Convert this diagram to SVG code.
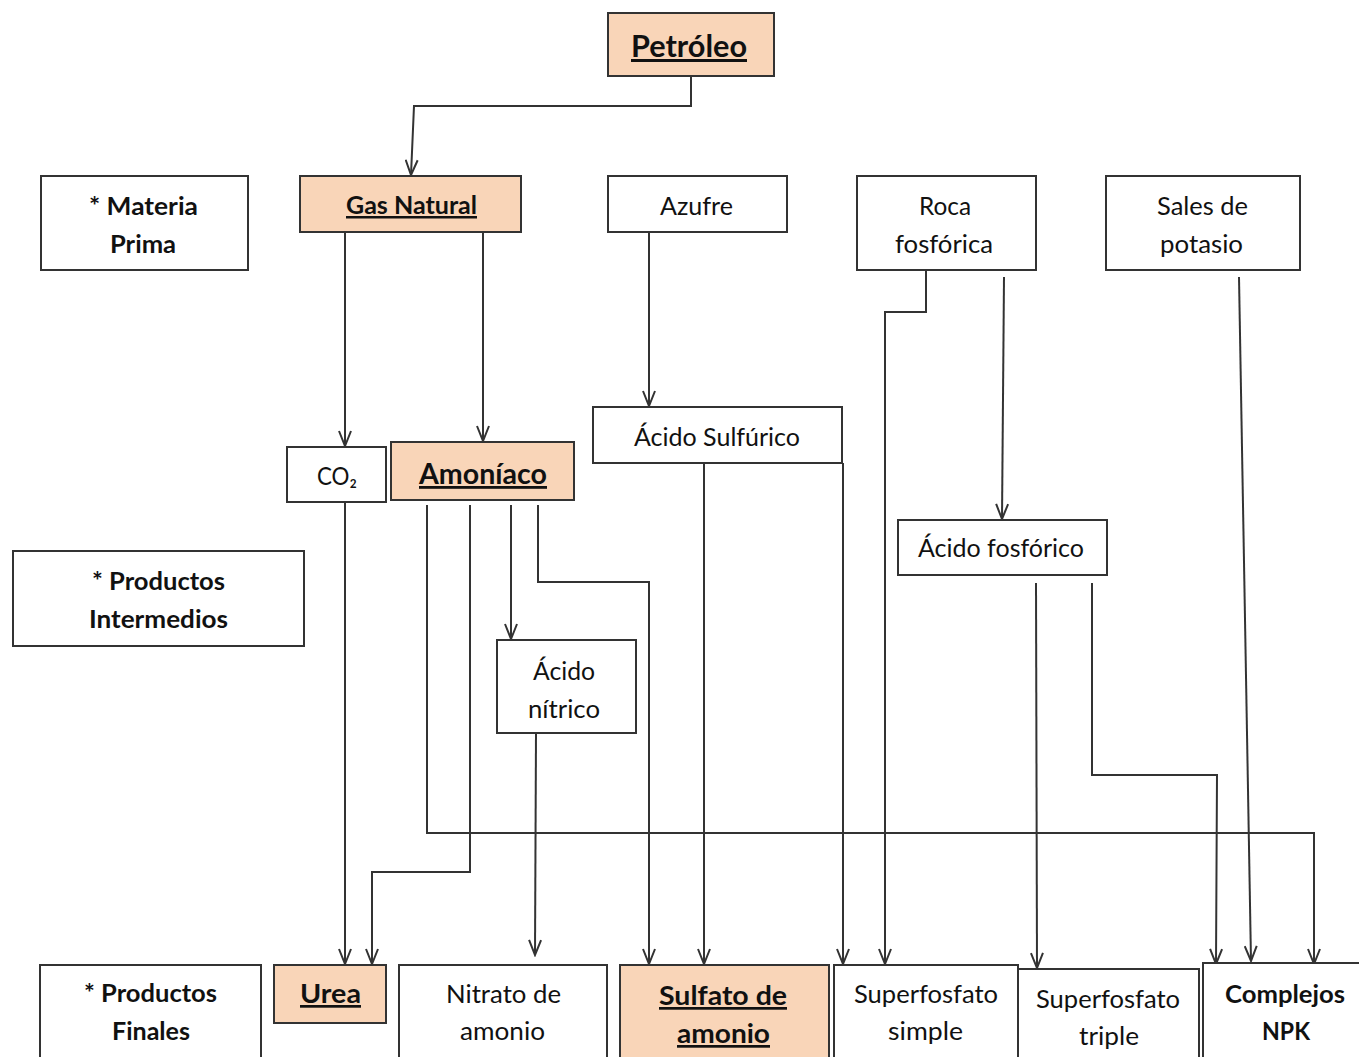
<svg xmlns="http://www.w3.org/2000/svg" width="1359" height="1057" viewBox="0 0 1359 1057">
<style>
.box{fill:#ffffff;stroke:#333;stroke-width:2}
.hl{fill:#f9d5b8;stroke:#333;stroke-width:2}
text{font-family:Lato,"Open Sans","Liberation Sans",sans-serif;fill:#111;text-anchor:start}
.b{font-weight:bold}
.u{text-decoration:underline}
.c{fill:none;stroke:#333;stroke-width:2}
</style>
<defs>
<marker id="ah" markerUnits="userSpaceOnUse" markerWidth="18" markerHeight="14" viewBox="0 0 18 14" refX="16" refY="7" orient="auto">
<path d="M1,1 L16,7 L1,13" fill="none" stroke="#333" stroke-width="2"/>
</marker>
</defs>
<g id="connectors">
<path class="c" d="M691,76 V106 H414 L411,175" marker-end="url(#ah)"/>
<path class="c" d="M345,232 V446" marker-end="url(#ah)"/>
<path class="c" d="M483,232 V441" marker-end="url(#ah)"/>
<path class="c" d="M649,232 V406" marker-end="url(#ah)"/>
<path class="c" d="M1004,277 L1002,519" marker-end="url(#ah)"/>
<path class="c" d="M926,262 V312 H885 V964" marker-end="url(#ah)"/>
<path class="c" d="M1239,277 L1251,961" marker-end="url(#ah)"/>
<path class="c" d="M345,502 V964" marker-end="url(#ah)"/>
<path class="c" d="M470,505 V872 H372 V964" marker-end="url(#ah)"/>
<path class="c" d="M511,505 V639" marker-end="url(#ah)"/>
<path class="c" d="M538,505 V582 H649 V964" marker-end="url(#ah)"/>
<path class="c" d="M427,505 V833 H1314 V964" marker-end="url(#ah)"/>
<path class="c" d="M536,733 L535,955" marker-end="url(#ah)"/>
<path class="c" d="M704,463 V964" marker-end="url(#ah)"/>
<path class="c" d="M843,463 V964" marker-end="url(#ah)"/>
<path class="c" d="M1036,583 L1037,968" marker-end="url(#ah)"/>
<path class="c" d="M1092,583 V775 H1217 L1216,964" marker-end="url(#ah)"/>
</g>
<g id="petroleo"><rect class="hl" x="608" y="13" width="166" height="63"/><text class="b u" x="631" y="57" font-size="30" textLength="116" lengthAdjust="spacingAndGlyphs">Petróleo</text></g>
<g id="materia-prima"><rect class="box" x="41" y="176" width="207" height="94"/><text class="b" x="89" y="215" font-size="25" textLength="109" lengthAdjust="spacingAndGlyphs">* Materia</text><text class="b" x="110" y="253" font-size="25" textLength="66" lengthAdjust="spacingAndGlyphs">Prima</text></g>
<g id="gas-natural"><rect class="hl" x="300" y="176" width="221" height="56"/><text class="b u" x="346" y="214" font-size="25" textLength="131" lengthAdjust="spacingAndGlyphs">Gas Natural</text></g>
<g id="azufre"><rect class="box" x="608" y="176" width="179" height="56"/><text x="660" y="215" font-size="25" textLength="73" lengthAdjust="spacingAndGlyphs">Azufre</text></g>
<g id="roca-fosforica"><rect class="box" x="857" y="176" width="179" height="94"/><text x="919" y="215" font-size="25" textLength="52" lengthAdjust="spacingAndGlyphs">Roca</text><text x="895" y="253" font-size="25" textLength="98" lengthAdjust="spacingAndGlyphs">fosfórica</text></g>
<g id="sales-potasio"><rect class="box" x="1106" y="176" width="194" height="94"/><text x="1157" y="215" font-size="25" textLength="91" lengthAdjust="spacingAndGlyphs">Sales de</text><text x="1160" y="253" font-size="25" textLength="83" lengthAdjust="spacingAndGlyphs">potasio</text></g>
<g id="co2"><rect class="box" x="287" y="447" width="99" height="55"/><text x="317" y="485" font-size="25" textLength="40" lengthAdjust="spacingAndGlyphs">CO₂</text></g>
<g id="amoniaco"><rect class="hl" x="391" y="442" width="183" height="58"/><text class="b u" x="419" y="484" font-size="28" textLength="128" lengthAdjust="spacingAndGlyphs">Amoníaco</text></g>
<g id="acido-sulfurico"><rect class="box" x="593" y="407" width="249" height="56"/><text x="634" y="446" font-size="25" textLength="166" lengthAdjust="spacingAndGlyphs">Ácido Sulfúrico</text></g>
<g id="productos-intermedios"><rect class="box" x="13" y="551" width="291" height="95"/><text class="b" x="92" y="590" font-size="25" textLength="133" lengthAdjust="spacingAndGlyphs">* Productos</text><text class="b" x="89" y="628" font-size="25" textLength="139" lengthAdjust="spacingAndGlyphs">Intermedios</text></g>
<g id="acido-fosforico"><rect class="box" x="898" y="520" width="209" height="55"/><text x="918" y="557" font-size="25" textLength="166" lengthAdjust="spacingAndGlyphs">Ácido fosfórico</text></g>
<g id="acido-nitrico"><rect class="box" x="497" y="640" width="139" height="93"/><text x="533" y="680" font-size="25" textLength="62" lengthAdjust="spacingAndGlyphs">Ácido</text><text x="528" y="718" font-size="25" textLength="72" lengthAdjust="spacingAndGlyphs">nítrico</text></g>
<g id="productos-finales"><rect class="box" x="40" y="965" width="221" height="100"/><text class="b" x="84" y="1002" font-size="25" textLength="133" lengthAdjust="spacingAndGlyphs">* Productos</text><text class="b" x="112" y="1040" font-size="25" textLength="78" lengthAdjust="spacingAndGlyphs">Finales</text></g>
<g id="urea"><rect class="hl" x="274" y="965" width="112" height="58"/><text class="b u" x="300" y="1003" font-size="27" textLength="61" lengthAdjust="spacingAndGlyphs">Urea</text></g>
<g id="nitrato-amonio"><rect class="box" x="399" y="965" width="208" height="100"/><text x="446" y="1003" font-size="25" textLength="115" lengthAdjust="spacingAndGlyphs">Nitrato de</text><text x="460" y="1040" font-size="25" textLength="85" lengthAdjust="spacingAndGlyphs">amonio</text></g>
<g id="sulfato-amonio"><rect class="hl" x="620" y="965" width="209" height="100"/><text class="b u" x="659" y="1005" font-size="27" textLength="128" lengthAdjust="spacingAndGlyphs">Sulfato de</text><text class="b u" x="677" y="1043" font-size="27" textLength="93" lengthAdjust="spacingAndGlyphs">amonio</text></g>
<g id="superfosfato-simple"><rect class="box" x="834" y="965" width="184" height="100"/><text x="854" y="1003" font-size="25" textLength="144" lengthAdjust="spacingAndGlyphs">Superfosfato</text><text x="888" y="1040" font-size="25" textLength="75" lengthAdjust="spacingAndGlyphs">simple</text></g>
<g id="superfosfato-triple"><rect class="box" x="1018" y="969" width="181" height="100"/><text x="1036" y="1008" font-size="25" textLength="144" lengthAdjust="spacingAndGlyphs">Superfosfato</text><text x="1079" y="1045" font-size="25" textLength="60" lengthAdjust="spacingAndGlyphs">triple</text></g>
<g id="complejos-npk"><rect class="box" x="1203" y="963" width="170" height="100"/><text class="b" x="1225" y="1003" font-size="25" textLength="120" lengthAdjust="spacingAndGlyphs">Complejos</text><text class="b" x="1262" y="1040" font-size="25" textLength="48" lengthAdjust="spacingAndGlyphs">NPK</text></g>
</svg>
